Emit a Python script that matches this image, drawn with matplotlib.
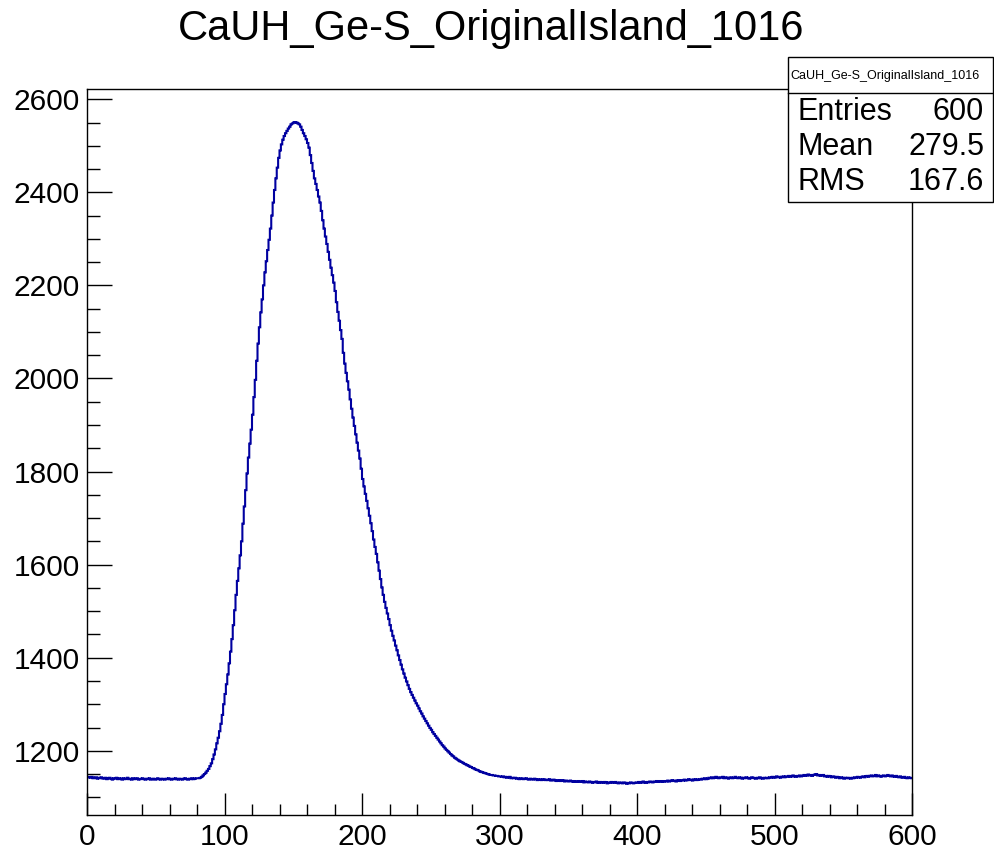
import numpy as np
import matplotlib
matplotlib.use("Agg")
import matplotlib.pyplot as plt
from matplotlib.patches import Rectangle
from matplotlib.lines import Line2D
from matplotlib.ticker import MultipleLocator

plt.rcParams['font.family'] = ['Liberation Sans', 'DejaVu Sans']

title = "CaUH_Ge-S_OriginalIsland_1016"
x_min, x_max = 0, 600
y_min, y_max = 1062, 2622
x_major, x_minor = 100, 20
y_major, y_minor = 200, 50

stat_labels = ["Entries", "Mean", "RMS"]
stat_values = ["600", "279.5", "167.6"]

# bin contents, one per unit bin from 0 to 600
counts = [
    1144, 1143, 1142, 1144, 1141, 1142, 1143, 1140, 1142, 1141,  # 0
    1143, 1141, 1140, 1142, 1139, 1141, 1142, 1140, 1138, 1141,  # 10
    1140, 1142, 1139, 1141, 1140, 1138, 1141, 1139, 1140, 1142,  # 20
    1139, 1140, 1138, 1141, 1139, 1140, 1141, 1138, 1139, 1140,  # 30
    1141, 1139, 1138, 1140, 1139, 1141, 1138, 1139, 1140, 1138,  # 40
    1139, 1141, 1139, 1138, 1140, 1139, 1138, 1140, 1139, 1141,  # 50
    1139, 1138, 1140, 1139, 1141, 1139, 1138, 1140, 1139, 1138,  # 60
    1140, 1141, 1139, 1138, 1140, 1139, 1141, 1139, 1140, 1141,  # 70
    1141, 1141, 1142, 1144, 1147, 1150, 1153, 1157, 1161, 1167,  # 80
    1173, 1182, 1192, 1203, 1216, 1228, 1242, 1258, 1277, 1300,  # 90
    1322, 1343, 1364, 1388, 1413, 1440, 1470, 1502, 1535, 1565,  # 100
    1592, 1620, 1650, 1688, 1725, 1760, 1796, 1830, 1860, 1890,  # 110
    1922, 1960, 1997, 2038, 2075, 2110, 2142, 2170, 2200, 2228,  # 120
    2252, 2276, 2298, 2322, 2350, 2378, 2405, 2430, 2453, 2474,  # 130
    2490, 2503, 2513, 2521, 2527, 2532, 2537, 2541, 2546, 2548,  # 140
    2550, 2551, 2550, 2548, 2546, 2541, 2534, 2527, 2521, 2514,  # 150
    2506, 2496, 2480, 2463, 2446, 2430, 2418, 2405, 2391, 2378,  # 160
    2360, 2340, 2322, 2305, 2289, 2272, 2255, 2238, 2222, 2206,  # 170
    2188, 2164, 2143, 2124, 2104, 2085, 2055, 2032, 2012, 1994,  # 180
    1976, 1955, 1935, 1916, 1898, 1880, 1862, 1845, 1828, 1806,  # 190
    1784, 1768, 1752, 1737, 1721, 1705, 1689, 1672, 1654, 1638,  # 200
    1623, 1605, 1587, 1569, 1551, 1535, 1520, 1507, 1495, 1483,  # 210
    1470, 1458, 1447, 1437, 1426, 1416, 1405, 1395, 1385, 1375,  # 220
    1366, 1357, 1349, 1341, 1333, 1326, 1320, 1314, 1308, 1302,  # 230
    1297, 1291, 1285, 1280, 1274, 1269, 1264, 1259, 1254, 1249,  # 240
    1245, 1240, 1236, 1232, 1228, 1224, 1220, 1216, 1212, 1209,  # 250
    1205, 1202, 1199, 1196, 1193, 1190, 1188, 1185, 1183, 1181,  # 260
    1179, 1177, 1176, 1174, 1172, 1171, 1169, 1168, 1166, 1165,  # 270
    1163, 1162, 1160, 1159, 1158, 1156, 1155, 1154, 1153, 1152,  # 280
    1151, 1150, 1149, 1148, 1148, 1147, 1147, 1146, 1146, 1145,  # 290
    1145, 1144, 1145, 1143, 1144, 1142, 1143, 1144, 1141, 1142,  # 300
    1141, 1142, 1140, 1141, 1139, 1141, 1140, 1139, 1140, 1141,  # 310
    1139, 1138, 1140, 1139, 1138, 1140, 1139, 1137, 1139, 1138,  # 320
    1137, 1139, 1138, 1137, 1138, 1137, 1139, 1136, 1137, 1138,  # 330
    1136, 1135, 1137, 1136, 1135, 1137, 1136, 1134, 1136, 1135,  # 340
    1134, 1136, 1135, 1133, 1135, 1134, 1133, 1135, 1134, 1133,  # 350
    1135, 1132, 1134, 1133, 1132, 1134, 1133, 1131, 1133, 1132,  # 360
    1134, 1132, 1131, 1133, 1132, 1131, 1133, 1132, 1130, 1132,  # 370
    1131, 1133, 1132, 1131, 1133, 1131, 1130, 1132, 1131, 1130,  # 380
    1132, 1131, 1129, 1131, 1130, 1132, 1131, 1130, 1131, 1132,  # 390
    1131, 1133, 1131, 1132, 1134, 1132, 1131, 1133, 1132, 1134,  # 400
    1133, 1132, 1134, 1133, 1135, 1133, 1134, 1135, 1133, 1134,  # 410
    1135, 1134, 1136, 1134, 1135, 1137, 1135, 1136, 1134, 1136,  # 420
    1137, 1135, 1137, 1136, 1138, 1136, 1137, 1139, 1137, 1138,  # 430
    1136, 1138, 1139, 1137, 1138, 1139, 1138, 1140, 1139, 1141,  # 440
    1139, 1140, 1142, 1141, 1143, 1141, 1142, 1144, 1142, 1141,  # 450
    1143, 1142, 1144, 1141, 1143, 1142, 1140, 1142, 1143, 1141,  # 460
    1142, 1144, 1142, 1141, 1143, 1142, 1140, 1142, 1141, 1143,  # 470
    1142, 1140, 1141, 1143, 1142, 1141, 1140, 1142, 1141, 1143,  # 480
    1141, 1140, 1142, 1141, 1142, 1141, 1143, 1142, 1144, 1142,  # 490
    1143, 1145, 1143, 1144, 1142, 1144, 1145, 1143, 1145, 1144,  # 500
    1146, 1144, 1145, 1147, 1145, 1144, 1146, 1145, 1147, 1145,  # 510
    1146, 1148, 1146, 1147, 1149, 1147, 1148, 1146, 1148, 1149,  # 520
    1150, 1147, 1148, 1146, 1147, 1148, 1145, 1146, 1144, 1146,  # 530
    1145, 1143, 1145, 1144, 1142, 1144, 1143, 1141, 1143, 1142,  # 540
    1140, 1142, 1141, 1142, 1141, 1140, 1142, 1141, 1143, 1142,  # 550
    1144, 1143, 1142, 1144, 1145, 1143, 1145, 1146, 1144, 1146,  # 560
    1147, 1145, 1146, 1148, 1145, 1147, 1146, 1144, 1146, 1147,  # 570
    1145, 1146, 1148, 1146, 1145, 1147, 1145, 1144, 1146, 1144,  # 580
    1143, 1145, 1143, 1142, 1144, 1142, 1141, 1143, 1142, 1141,  # 590
]

W, H = 994, 850
fig = plt.figure(figsize=(W / 100, H / 100), dpi=100)
fig.patch.set_facecolor('white')

def fx(px):
    return px / W

def fy(py):
    return 1 - py / H

ax = fig.add_axes([fx(87), fy(815), fx(912) - fx(87), fy(89) - fy(815)])

edges = np.linspace(x_min, x_max, len(counts) + 1)
ax.stairs(counts, edges, baseline=None, color='#0000a0', lw=1.5)

ax.set_xlim(x_min, x_max)
ax.set_ylim(y_min, y_max)
ax.xaxis.set_major_locator(MultipleLocator(x_major))
ax.xaxis.set_minor_locator(MultipleLocator(x_minor))
ax.yaxis.set_major_locator(MultipleLocator(y_major))
ax.yaxis.set_minor_locator(MultipleLocator(y_minor))
ax.tick_params(axis='both', which='both', direction='in', top=False, right=False,
               color='black', width=1)
ax.tick_params(axis='x', which='major', length=16, labelsize=21.5, pad=6)
ax.tick_params(axis='x', which='minor', length=8)
ax.tick_params(axis='y', which='major', length=18, labelsize=21.5, pad=5)
ax.tick_params(axis='y', which='minor', length=9.5)
for s in ax.spines.values():
    s.set_linewidth(1)
    s.set_color('black')

fig.text(fx(491), fy(29), title, ha='center', va='center', fontsize=30)

# stats box
bx0, bx1, by0, by1 = 788, 993, 57, 202
box = Rectangle((fx(bx0), fy(by1)), fx(bx1) - fx(bx0), fy(by0) - fy(by1),
                transform=fig.transFigure, facecolor='white', edgecolor='black',
                lw=1, zorder=10)
fig.add_artist(box)
fig.add_artist(Line2D([fx(bx0), fx(bx1)], [fy(93), fy(93)], transform=fig.transFigure,
                      color='black', lw=1, zorder=11))
fig.text(fx(790), fy(76), title, ha='left', va='center', fontsize=9, zorder=12)
row_y = [112, 147, 182]
for lab, val, ry in zip(stat_labels, stat_values, row_y):
    fig.text(fx(798), fy(ry), lab, ha='left', va='center', fontsize=22, zorder=12)
    fig.text(fx(984), fy(ry), val, ha='right', va='center', fontsize=22, zorder=12)

fig.savefig("out.png", dpi=100)
